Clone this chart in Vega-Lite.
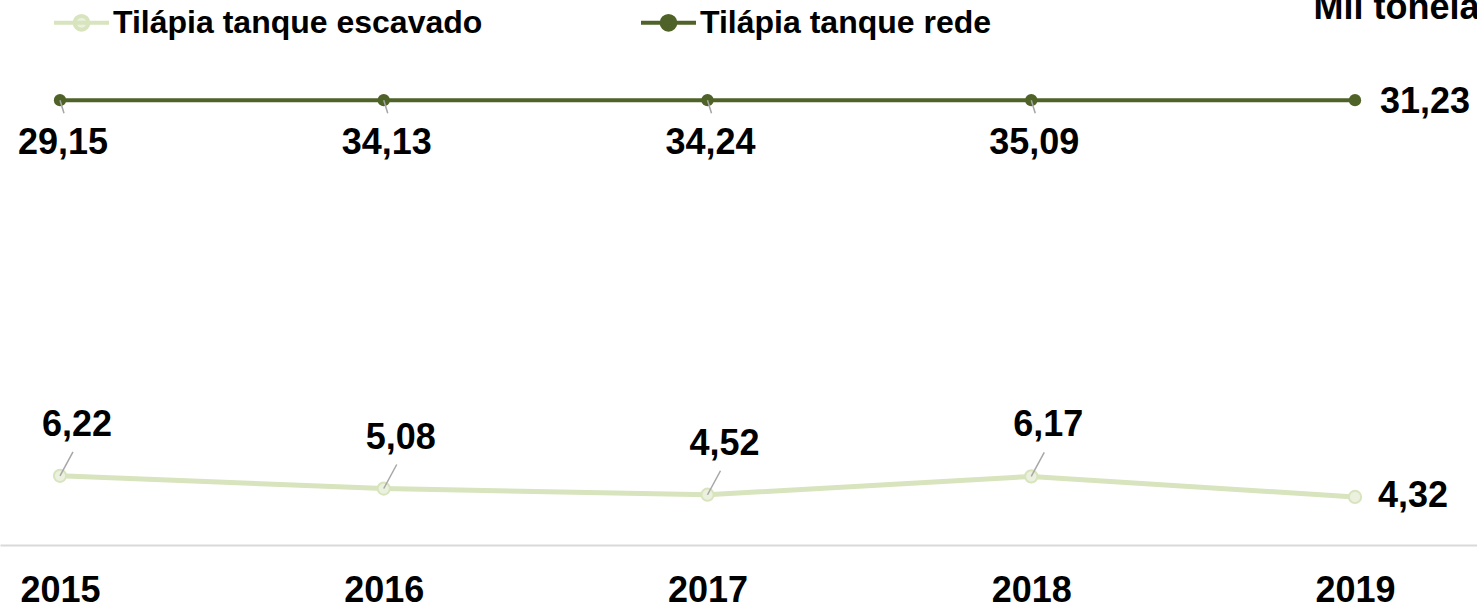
{
  "$schema": "https://vega.github.io/schema/vega-lite/v6.json",
  "width": 1477,
  "height": 608,
  "autosize": {"type": "none"},
  "padding": 0,
  "background": "white",
  "config": {
    "view": {"stroke": null},
    "font": "Liberation Sans",
    "locale": {"number": {"decimal": ",", "thousands": ".", "grouping": [3], "currency": ["R$ ", ""]}}
  },
  "data": {
    "values": [
      {"ano": 2015, "serie": "Tilápia tanque escavado", "valor": 6.22},
      {"ano": 2016, "serie": "Tilápia tanque escavado", "valor": 5.08},
      {"ano": 2017, "serie": "Tilápia tanque escavado", "valor": 4.52},
      {"ano": 2018, "serie": "Tilápia tanque escavado", "valor": 6.17},
      {"ano": 2019, "serie": "Tilápia tanque escavado", "valor": 4.32},
      {"ano": 2015, "serie": "Tilápia tanque rede", "valor": 29.15},
      {"ano": 2016, "serie": "Tilápia tanque rede", "valor": 34.13},
      {"ano": 2017, "serie": "Tilápia tanque rede", "valor": 34.24},
      {"ano": 2018, "serie": "Tilápia tanque rede", "valor": 35.09},
      {"ano": 2019, "serie": "Tilápia tanque rede", "valor": 31.23}
    ]
  },
  "encoding": {
    "x": {
      "field": "ano",
      "type": "quantitative",
      "scale": {"domain": [2014.8147, 2019.3768], "nice": false, "zero": false},
      "axis": {
        "values": [2015, 2016, 2017, 2018, 2019],
        "format": "d",
        "offset": -63,
        "grid": false,
        "ticks": false,
        "labelFlush": false,
        "labelOverlap": false,
        "labelBound": false,
        "labelFont": "Liberation Sans",
        "labelFontSize": 36,
        "labelFontWeight": "bold",
        "labelColor": "black",
        "labelPadding": 28,
        "domainColor": "#d9d9d9",
        "domainWidth": 2,
        "title": "Mil toneladas",
        "titleX": 1313,
        "titleY": -527,
        "titleAngle": 0,
        "titleAlign": "left",
        "titleBaseline": "alphabetic",
        "titleFont": "Liberation Sans",
        "titleFontSize": 36,
        "titleFontWeight": "bold",
        "titleColor": "black",
        "titleLimit": 1000
      }
    }
  },
  "layer": [
    {
      "transform": [{"filter": "datum.serie === 'Tilápia tanque escavado'"}],
      "mark": {"type": "line", "strokeWidth": 5},
      "encoding": {
        "y": {"field": "valor", "type": "quantitative", "scale": {"domain": [-5.665, 49.01], "nice": false, "zero": false}, "axis": null},
        "color": {
          "field": "serie",
          "type": "nominal",
          "scale": {"domain": ["Tilápia tanque escavado", "Tilápia tanque rede"], "range": ["#d7e4bd", "#4f6228"]},
          "legend": {
            "orient": "none",
            "legendX": 52,
            "legendY": -7,
            "direction": "horizontal",
            "title": null,
            "symbolType": "M-1,0L1,0M-0.25,0A0.25,0.25 0 1,0 0.25,0A0.25,0.25 0 1,0 -0.25,0",
            "symbolSize": 3025,
            "symbolStrokeWidth": 4,
            "labelFontSize": 32,
            "labelFontWeight": "bold",
            "labelColor": "black",
            "labelFont": "Liberation Sans",
            "labelOffset": 2,
            "columnPadding": 150,
            "labelLimit": 1000,
            "encode": {
              "symbols": {
                "update": {
                  "fill": {"signal": "datum.value === 'Tilápia tanque escavado' ? '#ebf1de' : '#4f6228'"},
                  "stroke": {"signal": "datum.value === 'Tilápia tanque escavado' ? '#d7e4bd' : '#4f6228'"},
                  "opacity": {"value": 1},
                  "fillOpacity": {"value": 1},
                  "strokeWidth": {"value": 4}
                }
              }
            }
          }
        }
      }
    },
    {
      "transform": [{"filter": "datum.serie === 'Tilápia tanque rede'"}],
      "mark": {"type": "line", "strokeWidth": 4},
      "encoding": {
        "y": {"datum": 40, "type": "quantitative", "axis": null},
        "color": {"field": "serie", "type": "nominal"}
      }
    },
    {
      "transform": [{"filter": "datum.serie === 'Tilápia tanque escavado'"}],
      "mark": {"type": "circle", "fill": "#ebf1de", "stroke": "#d7e4bd", "strokeWidth": 2, "size": 150, "opacity": 1},
      "encoding": {
        "y": {"field": "valor", "type": "quantitative", "axis": null}
      }
    },
    {
      "transform": [{"filter": "datum.serie === 'Tilápia tanque rede'"}],
      "mark": {"type": "circle", "fill": "#4f6228", "size": 150, "opacity": 1},
      "encoding": {
        "y": {"datum": 40, "type": "quantitative", "axis": null}
      }
    },
    {
      "transform": [{"filter": "datum.serie === 'Tilápia tanque escavado' && datum.ano < 2019"}],
      "mark": {"type": "rule", "color": "#a6a6a6", "strokeWidth": 1.5, "x2Offset": 13, "y2Offset": -24},
      "encoding": {
        "y": {"field": "valor", "type": "quantitative", "axis": null},
        "x2": {"field": "ano"},
        "y2": {"field": "valor"}
      }
    },
    {
      "transform": [{"filter": "datum.serie === 'Tilápia tanque rede' && datum.ano < 2019"}],
      "mark": {"type": "rule", "color": "#a6a6a6", "strokeWidth": 1.5, "x2Offset": 4, "y2Offset": 13},
      "encoding": {
        "y": {"datum": 40, "type": "quantitative", "axis": null},
        "x2": {"field": "ano"},
        "y2": {"datum": 40}
      }
    },
    {
      "transform": [{"filter": "datum.serie === 'Tilápia tanque escavado' && datum.ano < 2019"}],
      "mark": {"type": "text", "font": "Liberation Sans", "fontSize": 36, "fontWeight": "bold", "color": "black", "align": "center", "baseline": "alphabetic", "dx": 17, "dy": -40},
      "encoding": {
        "y": {"field": "valor", "type": "quantitative", "axis": null},
        "text": {"field": "valor", "type": "quantitative", "format": ".2f"}
      }
    },
    {
      "transform": [{"filter": "datum.serie === 'Tilápia tanque escavado' && datum.ano === 2019"}],
      "mark": {"type": "text", "font": "Liberation Sans", "fontSize": 36, "fontWeight": "bold", "color": "black", "align": "left", "baseline": "alphabetic", "dx": 23, "dy": 10},
      "encoding": {
        "y": {"field": "valor", "type": "quantitative", "axis": null},
        "text": {"field": "valor", "type": "quantitative", "format": ".2f"}
      }
    },
    {
      "transform": [{"filter": "datum.serie === 'Tilápia tanque rede' && datum.ano < 2019"}],
      "mark": {"type": "text", "font": "Liberation Sans", "fontSize": 36, "fontWeight": "bold", "color": "black", "align": "center", "baseline": "alphabetic", "dx": 3, "dy": 54},
      "encoding": {
        "y": {"datum": 40, "type": "quantitative", "axis": null},
        "text": {"field": "valor", "type": "quantitative", "format": ".2f"}
      }
    },
    {
      "transform": [{"filter": "datum.serie === 'Tilápia tanque rede' && datum.ano === 2019"}],
      "mark": {"type": "text", "font": "Liberation Sans", "fontSize": 36, "fontWeight": "bold", "color": "black", "align": "left", "baseline": "alphabetic", "dx": 25, "dy": 13},
      "encoding": {
        "y": {"datum": 40, "type": "quantitative", "axis": null},
        "text": {"field": "valor", "type": "quantitative", "format": ".2f"}
      }
    }
  ]
}
